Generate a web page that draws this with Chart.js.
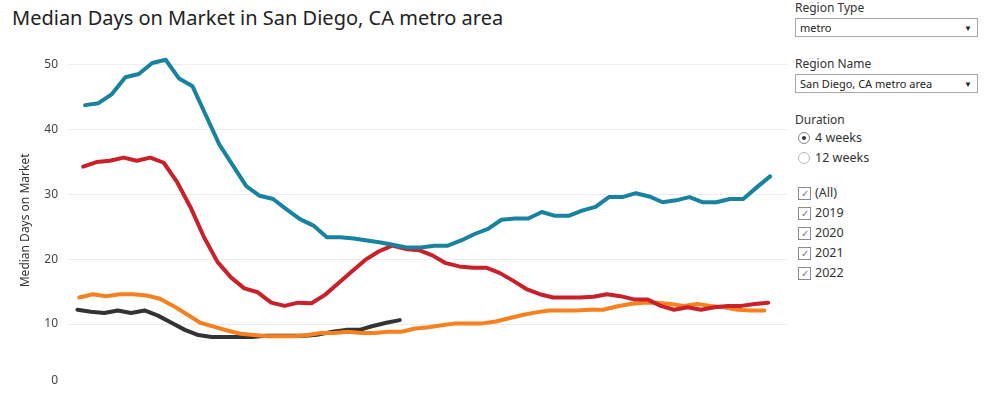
<!DOCTYPE html>
<html>
<head>
<meta charset="utf-8">
<script src="https://cdn.jsdelivr.net/npm/chart.js@4"></script>
<style>
  body { margin: 0; width: 990px; height: 393px; overflow: hidden; background: #fff;
         font-family: "Noto Sans", sans-serif; color: #333; position: relative; }
  #title { position: absolute; left: 12px; top: 4px; font-size: 20px; color: #222; white-space: nowrap; }
  #wrap { position: absolute; left: 0; top: 0; width: 790px; height: 406px; }
  .lbl { position: absolute; left: 795px; font-size: 12px; color: #333; white-space: nowrap; }
  .sel { position: absolute; left: 795px; width: 183px; height: 19px; box-sizing: border-box;
         border: 1px solid #a8a8a8; font-size: 11px; line-height: 17px; padding-left: 4px; color: #222; }
  .sel .arr { position: absolute; right: 5px; top: 0; font-size: 8px; color: #222; }
  .opt { position: absolute; left: 798px; font-size: 12.5px; color: #333; white-space: nowrap; }
  .radio { position: absolute; left: 0; top: 1px; width: 12px; height: 12px; border-radius: 50%;
           border: 1px solid #b8b8b8; box-sizing: border-box; }
  .radio.on { border-color: #888; }
  .radio.on::after { content: ""; position: absolute; left: 3px; top: 3px; width: 4px; height: 4px;
                     border-radius: 50%; background: #333; }
  .box { position: absolute; left: 0; top: 1px; width: 13px; height: 13px; border: 1px solid #8a8a8a;
         box-sizing: border-box; font-size: 10px; line-height: 11px; text-align: center; color: #777; }
  .opt span.t { position: absolute; left: 17px; top: -2px; }
</style>
</head>
<body>
<div id="title">Median Days on Market in San Diego, CA metro area</div>
<div id="wrap"><canvas id="chart"></canvas></div>

<div class="lbl" style="top:-1px">Region Type</div>
<div class="sel" style="top:18px">metro<span class="arr">&#9660;</span></div>
<div class="lbl" style="top:55px">Region Name</div>
<div class="sel" style="top:74px">San Diego, CA metro area<span class="arr">&#9660;</span></div>
<div class="lbl" style="top:111px">Duration</div>
<div class="opt" style="top:131px"><div class="radio on"></div><span class="t">4 weeks</span></div>
<div class="opt" style="top:151px"><div class="radio"></div><span class="t">12 weeks</span></div>
<div class="opt" style="top:186px"><div class="box">&#10003;</div><span class="t">(All)</span></div>
<div class="opt" style="top:206px"><div class="box">&#10003;</div><span class="t">2019</span></div>
<div class="opt" style="top:226px"><div class="box">&#10003;</div><span class="t">2020</span></div>
<div class="opt" style="top:246px"><div class="box">&#10003;</div><span class="t">2021</span></div>
<div class="opt" style="top:266px"><div class="box">&#10003;</div><span class="t">2022</span></div>

<script>
// weekly median days on market (4-week window), one value per week-ending Sunday
const years = [2019, 2020, 2021, 2022];
const dom2019 = [43.8, 44.1, 45.5, 48.1, 48.6, 50.3, 50.8, 47.9, 46.7, 42.2, 37.7, 34.5, 31.3,
                 29.8, 29.3, 27.7, 26.2, 25.2, 23.4, 23.4, 23.2, 22.9, 22.6, 22.2, 21.8, 21.8,
                 22.1, 22.1, 22.9, 23.9, 24.7, 26.1, 26.3, 26.3, 27.3, 26.7, 26.7, 27.5, 28.1,
                 29.6, 29.6, 30.2, 29.7, 28.8, 29.1, 29.6, 28.8, 28.8, 29.3, 29.3, 31.1, 32.8];
const dom2020 = [34.3, 35.0, 35.2, 35.7, 35.2, 35.7, 34.9, 31.9, 28.0, 23.4, 19.6, 17.2, 15.5,
                 14.9, 13.3, 12.8, 13.3, 13.2, 14.5, 16.3, 18.1, 19.9, 21.2, 22.1, 21.6, 21.4,
                 20.6, 19.4, 18.9, 18.7, 18.7, 17.9, 16.7, 15.4, 14.6, 14.1, 14.1, 14.1, 14.2,
                 14.6, 14.3, 13.8, 13.8, 12.8, 12.2, 12.6, 12.2, 12.6, 12.8, 12.8, 13.1, 13.3];
const dom2021 = [14.1, 14.6, 14.3, 14.6, 14.6, 14.4, 13.9, 12.8, 11.5, 10.2, 9.6, 9.0, 8.5,
                 8.3, 8.1, 8.1, 8.1, 8.3, 8.6, 8.6, 8.8, 8.6, 8.6, 8.8, 8.8, 9.3,
                 9.5, 9.8, 10.1, 10.1, 10.1, 10.4, 10.9, 11.4, 11.8, 12.1, 12.1, 12.1, 12.2,
                 12.2, 12.7, 13.1, 13.3, 13.3, 13.1, 12.8, 13.1, 12.8, 12.6, 12.2, 12.1, 12.1];
const dom2022 = [12.2, 11.9, 11.7, 12.1, 11.7, 12.1, 11.3, 10.2, 9.1, 8.3, 8.0, 8.0, 8.0,
                 8.0, 8.2, 8.2, 8.2, 8.2, 8.4, 8.8, 9.1, 9.1, 9.7, 10.2, 10.6];
const yTicks = [10, 20, 30, 40, 50];
const lineColors = ['#17839f', '#c9202a', '#f8801f', '#333333'];

// x = day of year (0-based) of each week-ending Sunday
function sundays(year, n) {
  const first = (7 - new Date(Date.UTC(year, 0, 1)).getUTCDay()) % 7;
  const out = [];
  for (let i = 0; i < n; i++) out.push(first + 7 * i);
  return out;
}
function series(year, vals) {
  const xs = sundays(year, vals.length);
  return vals.map((v, i) => ({ x: xs[i], y: v }));
}

const allValues = [dom2019, dom2020, dom2021, dom2022];
const datasets = years.map((yr, i) => ({
  label: String(yr),
  data: series(yr, allValues[i]),
  borderColor: lineColors[i],
  backgroundColor: lineColors[i],
  borderWidth: 4,
  borderCapStyle: 'round',
  borderJoinStyle: 'round',
  pointRadius: 0,
  tension: 0
}));

const zeroLabel = {
  id: 'zeroLabel',
  afterDraw(chart) {
    const s = chart.scales.y;
    const ctx = chart.ctx;
    ctx.save();
    ctx.font = '12px "Noto Sans"';
    ctx.fillStyle = '#444';
    ctx.textAlign = 'right';
    ctx.textBaseline = 'alphabetic';
    ctx.fillText('0', s.right - 10, Math.min(s.getPixelForValue(0), 384));
    ctx.restore();
  }
};

new Chart(document.getElementById('chart'), {
  type: 'line',
  data: { datasets: datasets },
  plugins: [zeroLabel],
  options: {
    responsive: true,
    maintainAspectRatio: false,
    animation: false,
    layout: { padding: { top: 52, right: 3, bottom: 8, left: 0 } },
    plugins: { legend: { display: false }, tooltip: { enabled: false } },
    scales: {
      x: { type: 'linear', min: -3.9, max: 370.8, display: false },
      y: {
        min: 0, max: 52,
        afterBuildTicks: (scale) => { scale.ticks = yTicks.map(v => ({ value: v })); },
        afterFit: (scale) => { scale.width = 68; },
        border: { display: false },
        grid: { color: '#ececec', lineWidth: 1, drawTicks: false },
        ticks: { padding: 10, color: '#444', font: { family: 'Noto Sans', size: 12 } },
        title: { display: true, text: 'Median Days on Market', color: '#333',
                 font: { family: 'Noto Sans', size: 12 }, padding: { top: 18, bottom: 0 } }
      }
    }
  }
});
</script>
</body>
</html>
